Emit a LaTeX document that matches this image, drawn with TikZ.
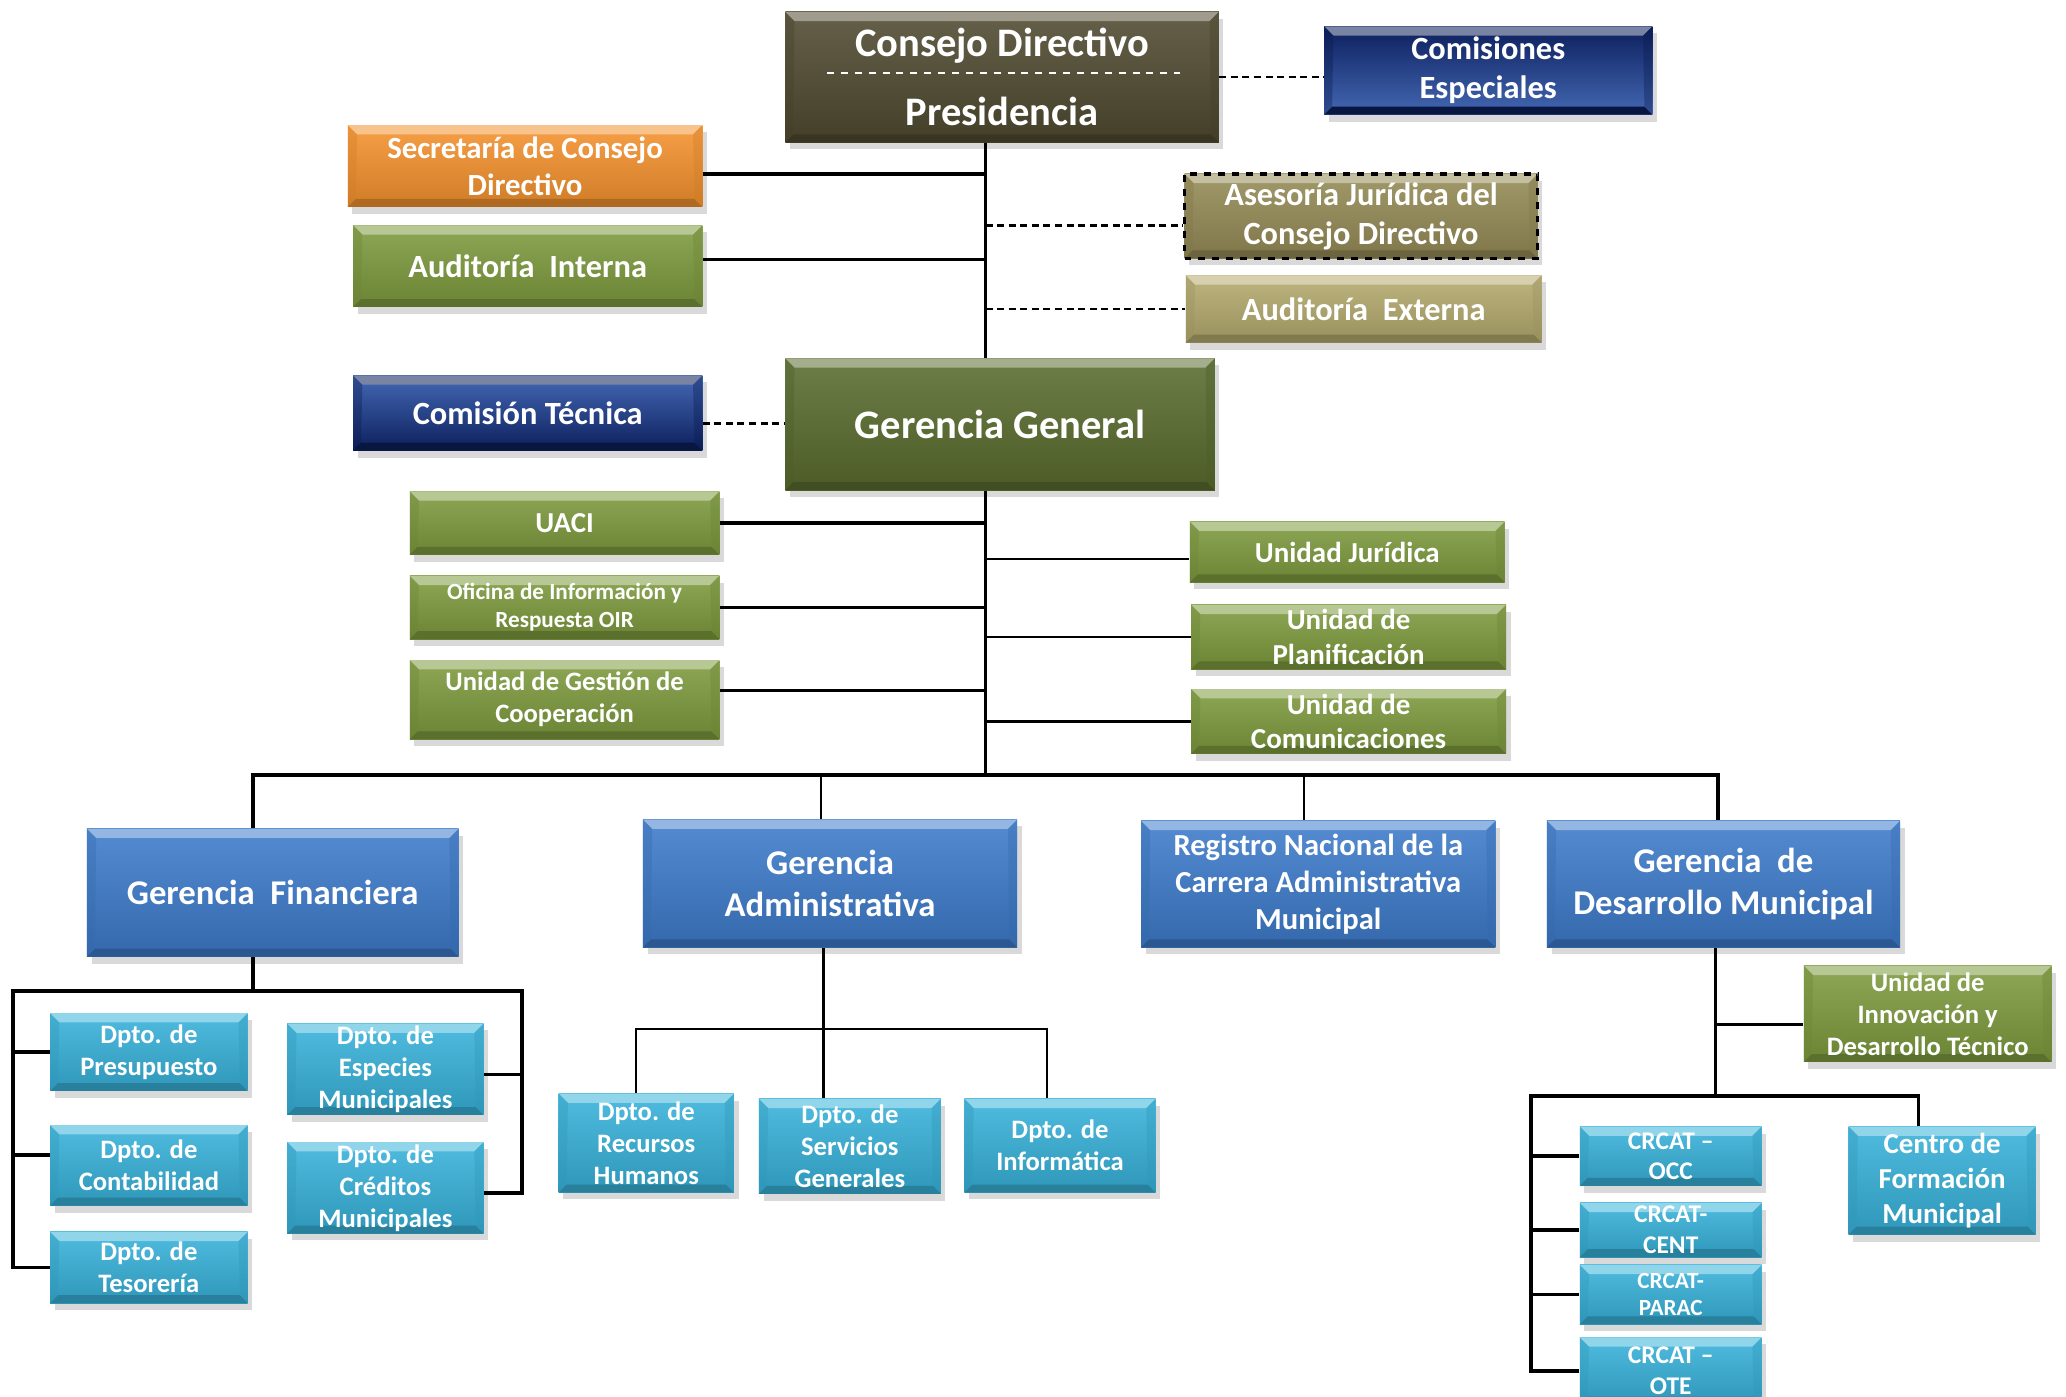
\documentclass[tikz,border=0pt]{standalone}
\usepackage{fontspec}
\setmainfont{Carlito}
\usetikzlibrary{calc,shadows}
\definecolor{cdbrown}{HTML}{504A30}
\definecolor{navydk}{HTML}{0C1F5C}
\definecolor{navylt}{HTML}{4468B4}
\definecolor{orng}{HTML}{F5922E}
\definecolor{olive}{HTML}{7E9B3E}
\definecolor{khaki}{HTML}{958B56}
\definecolor{sand}{HTML}{B4AA6E}
\definecolor{ggreen}{HTML}{5A6C2E}
\definecolor{gblue}{HTML}{3D7BCB}
\definecolor{lblue}{HTML}{37B2DA}
\newcommand{\boxfont}[1]{\fontsize{#1}{\dimexpr #1*12/10\relax}\selectfont\bfseries}

\begin{document}
\begin{tikzpicture}[x=0.02cm,y=-0.02cm,
  orgbox/.style={rectangle,inner sep=1pt,align=center,text=white,
    drop shadow={shadow xshift=2pt,shadow yshift=-3pt,opacity=.3}},
  sz/.style 2 args={minimum width=#1*0.02cm,minimum height=#2*0.02cm},
  bev/.style={top color=#1!88!white,bottom color=#1!85!black,
    path picture={
      \path (path picture bounding box.north west) coordinate (bvnw)
            (path picture bounding box.north east) coordinate (bvne)
            (path picture bounding box.south west) coordinate (bvsw)
            (path picture bounding box.south east) coordinate (bvse);
      \fill[#1!55!white] (bvnw) -- (bvne) -- ($(bvne)+(-7,7)$) -- ($(bvnw)+(7,7)$) -- cycle;
      \fill[#1!72!black] (bvsw) -- (bvse) -- ($(bvse)+(-6,-6)$) -- ($(bvsw)+(6,-6)$) -- cycle;
      \fill[#1!85!black,opacity=.35] (bvnw) -- ($(bvnw)+(7,7)$) -- ($(bvsw)+(6,-6)$) -- (bvsw) -- cycle;
      \fill[#1!85!black,opacity=.35] (bvne) -- ($(bvne)+(-7,7)$) -- ($(bvse)+(-6,-6)$) -- (bvse) -- cycle;
    }},
  link/.style={line width=1pt},
  blink/.style={line width=1.6pt},
  dlink/.style={line width=1.1pt,dash pattern=on 3pt off 2pt}]
  \useasboundingbox (0,0) rectangle (1568,1060);
  \clip (0,0) rectangle (1568,1060);

  % consejo directivo
  \node[orgbox,bev=cdbrown,sz={329}{99},font=\boxfont{17.5pt}] (cd) at (760.5,58.5) {Consejo Directivo\\[9pt]Presidencia};
  \draw[white,dashed,line width=1pt] ($(cd.west)+(32,-3)$) -- ($(cd.east)+(-30,-3)$);
  \node[orgbox,bev=navydk,top color=navydk,bottom color=navylt,sz={249}{67},font=\boxfont{14pt}] (ce) at (1129.5,53.5) {Comisiones\\Especiales};
  \node[orgbox,bev=orng,sz={269}{62},font=\boxfont{13.3pt}] (sec) at (398.5,126) {Secretaría de Consejo\\Directivo};
  \node[orgbox,bev=olive,sz={265}{62},font=\boxfont{14pt}] (ai) at (400.5,202) {Auditoría~ Interna};
  \node[orgbox,bev=khaki,sz={268}{64},draw=black,dashed,line width=1.4pt,font=\boxfont{14pt}] (aj) at (1033,164) {Asesoría Jurídica del\\Consejo Directivo};
  \node[orgbox,bev=sand,sz={270}{51},font=\boxfont{14pt}] (ae) at (1035,234.5) {Auditoría~ Externa};
  \node[orgbox,bev=navydk,top color=navylt,bottom color=navydk,sz={265}{57},font=\boxfont{14pt}] (ct) at (400.5,313.5) {Comisión Técnica};
  \node[orgbox,bev=ggreen,sz={326}{100},font=\boxfont{17.5pt}] (gg) at (759,322) {Gerencia General};

  \coordinate (tk) at (748,0);
  \draw[link] (cd.south -| tk) -- (gg.north -| tk);
  \draw[dlink] (cd.east) -- (cd.east -| ce.west);
  \draw[blink] ($(sec.east)+(0,6)$) -- ($(sec.east -| tk)+(0,6)$);
  \draw[blink] ($(ai.east)+(0,-5)$) -- ($(ai.east -| tk)+(0,-5)$);
  \draw[dlink] ($(aj.west -| tk)+(0,7)$) -- ($(aj.west)+(0,7)$);
  \draw[dlink] (ae.west -| tk) -- (ae.west);
  \draw[dlink] ($(ct.east)+(0,8)$) -- ($(ct.east -| gg.west)+(0,8)$);

  % unidades de gerencia general
  \node[orgbox,bev=olive,sz={235}{48},font=\boxfont{12.5pt}] (uaci) at (428.5,397) {UACI};
  \node[orgbox,bev=olive,sz={235}{48},font=\boxfont{10pt}] (oir) at (428.5,461) {Oficina de Información y\\Respuesta OIR};
  \node[orgbox,bev=olive,sz={235}{60},font=\boxfont{11.5pt}] (ugc) at (428.5,531) {Unidad de Gestión de\\Cooperación};
  \node[orgbox,bev=olive,sz={239}{46},font=\boxfont{12.5pt}] (uj) at (1022.5,419) {Unidad Jurídica};
  \node[orgbox,bev=olive,sz={239}{49},font=\boxfont{12.5pt}] (up) at (1023.5,483.5) {Unidad de\\Planificación};
  \node[orgbox,bev=olive,sz={239}{49},font=\boxfont{12.5pt}] (uc) at (1023.5,547.5) {Unidad de\\Comunicaciones};

  \coordinate (bs) at (0,588);
  \draw[link] (gg.south -| tk) -- (bs -| tk);
  \draw[blink] (uaci.east) -- (uaci.east -| tk);
  \draw[link] (oir.east) -- (oir.east -| tk);
  \draw[link] ($(ugc.east)+(0,-7)$) -- ($(ugc.east -| tk)+(0,-7)$);
  \draw[link] ($(uj.west -| tk)+(0,5)$) -- ($(uj.west)+(0,5)$);
  \draw[link] (up.west -| tk) -- (up.west);
  \draw[link] (uc.west -| tk) -- (uc.west);

  % gerencias
  \node[orgbox,bev=gblue,sz={282}{97},font=\boxfont{15pt}] (gf) at (207,677.5) {Gerencia~ Financiera};
  \node[orgbox,bev=gblue,sz={284}{97},font=\boxfont{15pt}] (ga) at (630,670.5) {Gerencia\\Administrativa};
  \node[orgbox,bev=gblue,sz={269}{96},font=\boxfont{13.2pt}] (rn) at (1000.5,671) {Registro Nacional de la\\Carrera Administrativa\\Municipal};
  \node[orgbox,bev=gblue,sz={268}{96},font=\boxfont{15pt}] (gdm) at (1308,671) {Gerencia~ de\\Desarrollo Municipal};

  \coordinate (gfx) at ($(gf.north)+(-15,0)$);
  \draw[blink] (gfx) -- (gfx |- bs) -- ($(gdm.north |- bs)+(-4,0)$) -- ($(gdm.north)+(-4,0)$);
  \draw[link] ($(ga.north |- bs)+(-7,0)$) -- ($(ga.north)+(-7,0)$);
  \draw[link] ($(rn.north |- bs)+(-11,0)$) -- ($(rn.north)+(-11,0)$);

  % financiera
  \node[orgbox,bev=lblue,sz={150}{59},font=\boxfont{11.5pt}] (pre) at (113,798.5) {Dpto. de\\Presupuesto};
  \node[orgbox,bev=lblue,sz={150}{61},font=\boxfont{11.5pt}] (con) at (113,884.5) {Dpto. de\\Contabilidad};
  \node[orgbox,bev=lblue,sz={150}{54},font=\boxfont{11.5pt}] (tes) at (113,962) {Dpto. de\\Tesorería};
  \node[orgbox,bev=lblue,sz={149}{63},font=\boxfont{11.5pt}] (esp) at (292.5,811.5) {Dpto. de\\Especies\\Municipales};
  \node[orgbox,bev=lblue,sz={149}{63},font=\boxfont{11.5pt}] (cre) at (292.5,901.5) {Dpto. de\\Créditos\\Municipales};

  \coordinate (fl) at (10,752);
  \coordinate (fr) at (396,752);
  \draw[blink] ($(gf.south)+(-15,0)$) -- ($(gf.south |- fl)+(-15,0)$);
  \draw[blink] (tes.west) -- (tes.west -| fl) -- (fl) -- (fr) -- ($(cre.east -| fr)+(0,4)$) -- ($(cre.east)+(0,4)$);
  \draw[blink] (pre.west) -- (pre.west -| fl);
  \draw[blink] ($(con.west)+(0,-8)$) -- ($(con.west -| fl)+(0,-8)$);
  \draw[blink] ($(esp.east)+(0,4)$) -- ($(esp.east -| fr)+(0,4)$);

  % administrativa
  \node[orgbox,bev=lblue,sz={133}{75},font=\boxfont{11.5pt}] (rh) at (490.5,867.5) {Dpto. de\\Recursos\\Humanos};
  \node[orgbox,bev=lblue,sz={138}{72},font=\boxfont{11.5pt}] (sg) at (645,870) {Dpto. de\\Servicios\\Generales};
  \node[orgbox,bev=lblue,sz={145}{71},font=\boxfont{11.5pt}] (inf) at (804.5,869.5) {Dpto. de\\Informática};

  \coordinate (ab) at (0,781);
  \draw[link] ($(ga.south)+(-5,0)$) -- ($(ga.south |- sg.north)+(-5,0)$);
  \draw[link] ($(rh.north)+(-8,0)$) -- ($(rh.north |- ab)+(-8,0)$) -- ($(inf.north |- ab)+(-10,0)$) -- ($(inf.north)+(-10,0)$);

  % desarrollo municipal
  \node[orgbox,bev=olive,sz={188}{73},font=\boxfont{11.5pt}] (uid) at (1463,769.5) {Unidad de\\Innovación y\\Desarrollo Técnico};
  \node[orgbox,bev=lblue,sz={142}{82},font=\boxfont{12.5pt}] (cfm) at (1474,896) {Centro de\\Formación\\Municipal};
  \node[orgbox,bev=lblue,sz={138}{45},font=\boxfont{11pt}] (occ) at (1268,877.5) {CRCAT –\\OCC};
  \node[orgbox,bev=lblue,sz={138}{41},font=\boxfont{11pt}] (cent) at (1268,933.5) {CRCAT-\\CENT};
  \node[orgbox,bev=lblue,sz={138}{45},font=\boxfont{10pt}] (parac) at (1268,982.5) {CRCAT-\\PARAC};
  \node[orgbox,bev=lblue,sz={138}{51},font=\boxfont{11pt}] (ote) at (1268,1040.5) {CRCAT –\\OTE};

  \coordinate (dl) at (1162,832);
  \coordinate (gdx) at ($(gdm.south)+(-6,0)$);
  \draw[blink] (gdx) -- (gdx |- dl);
  \draw[blink] ($(uid.west)+(0,8)$) -- ($(uid.west -| gdx)+(0,8)$);
  \draw[blink] (ote.west) -- (ote.west -| dl) -- (dl) -- ($(dl -| cfm.north)+(-18,0)$) -- ($(cfm.north)+(-18,0)$);
  \draw[blink] (occ.west) -- (occ.west -| dl);
  \draw[blink] (cent.west) -- (cent.west -| dl);
  \draw[blink] (parac.west) -- (parac.west -| dl);
\end{tikzpicture}
\end{document}
